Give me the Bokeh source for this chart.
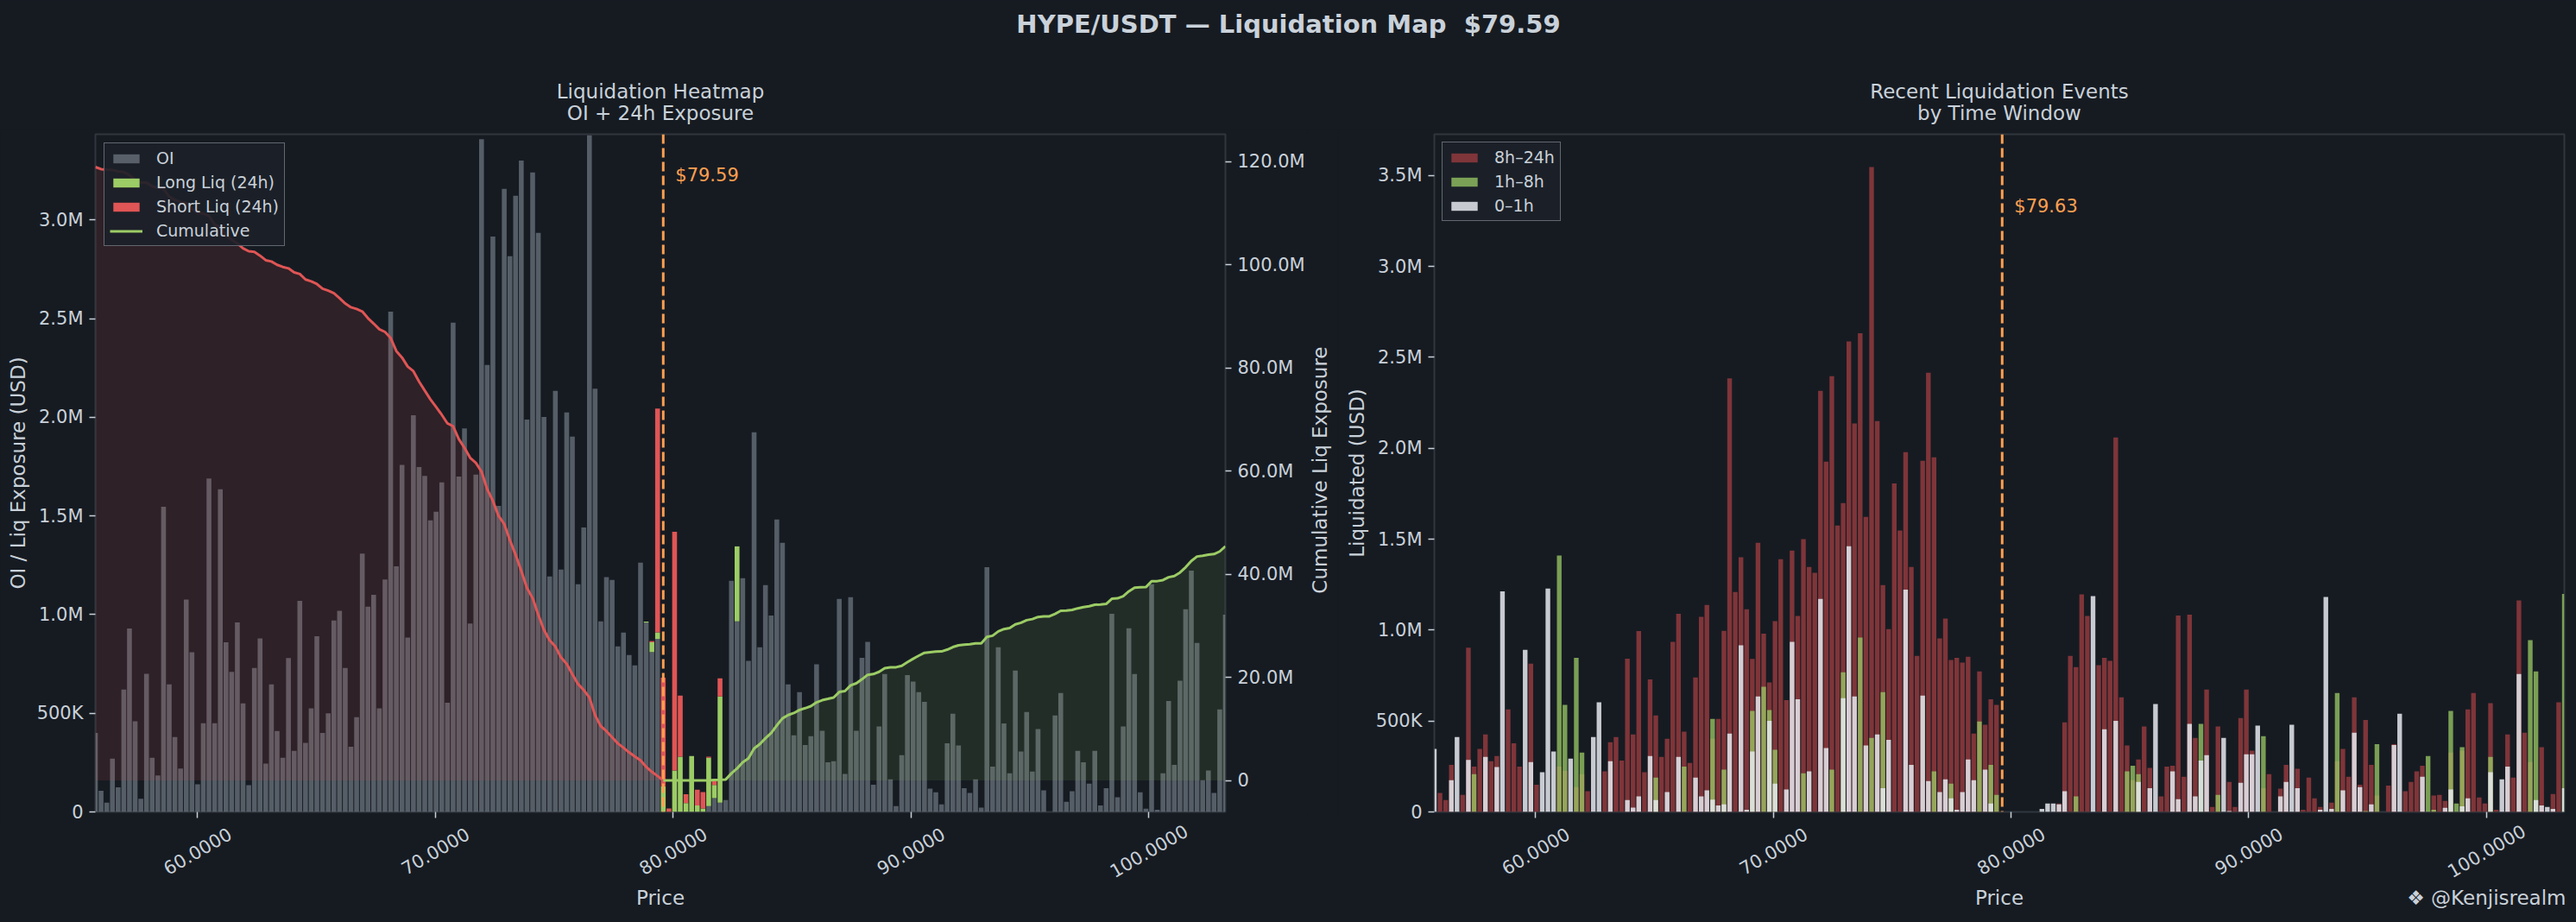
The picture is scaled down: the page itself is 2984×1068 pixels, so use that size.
import numpy as np
from math import pi
from bokeh.plotting import figure
from bokeh.models import (Range1d, LinearAxis, FixedTicker, Span, Label, Legend,
                          LegendItem, ColumnDataSource)
from bokeh.core.properties import value
from bokeh.layouts import column, row
from bokeh.embed import file_html
from bokeh.resources import INLINE

# ---------------------------------------------------------------- data
SUPTITLE = "HYPE/USDT \u2014 Liquidation Map \u00a0$79.59"
TITLE_LEFT = ["Liquidation Heatmap", "OI + 24h Exposure"]
TITLE_RIGHT = ["Recent Liquidation Events", "by Time Window"]
PRICE_HEATMAP = 79.59
PRICE_EVENTS = 79.63
PRICE_LABEL_HEATMAP = "$79.59"
PRICE_LABEL_EVENTS = "$79.63"
N_LEVELS = 200
PRICE_INDEX = 100
LEVEL_START_HEATMAP = 55.713
LEVEL_STEP_HEATMAP = 0.23877
LEVEL_START_EVENTS = 55.741
LEVEL_STEP_EVENTS = 0.23889

# open interest per price level (millions USD)
OI_M = [
    0.40, 0.107, 0.047, 0.27, 0.125, 0.62, 0.93, 0.46, 0.067, 0.70,
    0.275, 0.185, 1.547, 0.647, 0.38, 0.22, 1.076, 0.81, 0.14, 0.45,
    1.69, 0.45, 1.636, 0.86, 0.71, 0.96, 0.55, 0.136, 0.73, 0.88,
    0.245, 0.647, 0.41, 0.275, 0.78, 0.31, 1.07, 0.35, 0.525, 0.89,
    0.40, 0.50, 0.97, 1.02, 0.73, 0.33, 0.48, 1.31, 1.04, 1.10,
    0.525, 1.178, 2.536, 1.245, 1.759, 0.884, 2.011, 1.748, 1.703, 1.478,
    1.522, 1.67, 0.554, 2.48, 1.70, 1.944, 0.955, 1.71, 3.41, 2.266,
    2.917, 1.551, 3.158, 2.817, 3.123, 3.301, 1.989, 3.241, 2.935, 2.002,
    1.194, 2.134, 1.228, 2.025, 1.902, 1.154, 1.442, 3.43, 2.145, 0.966,
    1.19, 1.176, 0.839, 0.909, 0.795, 0.743, 1.263, 0.96, 0.81, 0.877,
    0, 0, 0, 0, 0, 0, 0, 0, 0.03, 0.07,
    0.047, 0.06, 1.172, 0.966, 1.185, 0.766, 1.924, 0.835, 1.15, 0.996,
    1.482, 1.364, 0.647, 0.388, 0.607, 0.339, 0.384, 0.748, 0.411, 0.252,
    0.257, 1.08, 0.192, 1.089, 0.411, 0.781, 0.862, 0.138, 0.433, 0.699,
    0.165, 0.029, 0.288, 0.694, 0.661, 0.607, 0.558, 0.118, 0.10, 0.038,
    0.348, 0.498, 0.337, 0.12, 0.096, 0.165, 0.022, 1.241, 0.23, 0.835,
    0.449, 0.196, 0.716, 0.306, 0.507, 0.205, 0.42, 0.109, 0, 0.489,
    0.603, 0.051, 0.105, 0.31, 0.252, 0.143, 0.31, 0.033, 0.12, 1.004,
    0.074, 0.433, 0.931, 0.699, 0.10, 0.016, 1.154, 0.011, 0.196, 0.562,
    0.239, 0.665, 1.027, 1.223, 0.857, 0.161, 0.21, 0.096, 0.52, 1.0,
]
# 24h liquidations near price (level index -> millions USD)
LONG_LIQ_24H_M = {97: 0.005, 98: 0.05, 99: 0.033, 100: 0.13, 102: 0.21, 103: 0.28,
                  104: 0.045, 105: 0.283, 106: 0.033, 107: 0.018, 108: 0.245,
                  109: 0.067, 110: 0.538, 113: 0.38}
SHORT_LIQ_24H_M = {98: 0.006, 99: 1.135, 100: 0.55, 101: 0.018, 102: 1.21, 103: 0.31,
                   104: 0.045, 106: 0.08, 107: 0.083, 108: 0.005, 109: 0.03, 110: 0.092}

# recent liquidation events by time window (millions USD)
LIQ_8H_24H_M = [
    0, 0.104, 0.065, 0.259, 0, 0.094, 0.903, 0.249, 0.346, 0.426,
    0.279, 0.308, 0, 0.564, 0.378, 0.249, 0, 0.816, 0.15, 0,
    0, 0, 0.249, 0.225, 0, 0.136, 0.208, 0.114, 0, 0,
    0.223, 0.383, 0.412, 0.283, 0.843, 0.426, 0.995, 0.218, 0.729, 0.53,
    0.303, 0.402, 0.935, 1.09, 0.441, 0.269, 0.739, 1.073, 1.138, 0.402,
    0.511, 0.996, 2.384, 1.209, 1.40, 1.114, 0.841, 1.48, 0.981, 0.712,
    1.049, 1.39, 0.615, 1.437, 1.078, 1.50, 1.347, 1.315, 2.316, 1.926,
    2.396, 1.575, 1.698, 2.587, 2.137, 2.633, 1.623, 3.547, 2.149, 1.248,
    1.005, 1.807, 1.548, 1.979, 1.347, 0.858, 1.931, 2.415, 1.95, 0.954,
    1.063, 0.836, 0.848, 0.821, 0.853, 0.431, 0.773, 0.48, 0.62, 0.589,
    0, 0, 0, 0, 0, 0, 0, 0, 0, 0,
    0.046, 0.492, 0.858, 0.797, 1.197, 1.078, 0, 0.807, 0.848, 0.831,
    2.059, 0.63, 0.366, 0.174, 0.288, 0.47, 0.242, 0, 0.085, 0.249,
    0.254, 1.08, 0.194, 1.085, 0.407, 0, 0.673, 0.027, 0.47, 0,
    0.165, 0.027, 0.516, 0.673, 0.337, 0, 0.131, 0.208, 0, 0.128,
    0.259, 0, 0.237, 0.012, 0.189, 0.075, 0.027, 0, 0.051, 0.279,
    0.346, 0.194, 0.63, 0.15, 0.506, 0.259, 0.09, 0, 0.145, 0.373,
    0, 0.114, 0.165, 0.223, 0.254, 0, 0.09, 0.094, 0.061, 0.327,
    0, 0.337, 0.564, 0.654, 0.08, 0.046, 0.598, 0.012, 0, 0.426,
    0.189, 1.163, 0.436, 0.274, 0, 0.356, 0, 0.099, 0.603, 0,
]
LIQ_1H_8H_M = [
    0, 0, 0, 0, 0, 0, 0, 0.208, 0, 0,
    0, 0, 0, 0, 0, 0, 0, 0, 0, 0,
    0, 0, 1.41, 0.589, 0, 0.848, 0.327, 0, 0, 0,
    0, 0, 0, 0, 0, 0, 0, 0, 0, 0.189,
    0, 0, 0, 0, 0.249, 0, 0, 0, 0, 0.511,
    0, 0.233, 0, 0, 0, 0, 0.555, 0, 0.688, 0.56,
    0.342, 0, 0, 0, 0, 0.213, 0, 0, 0, 0,
    0.233, 0, 0.768, 0, 0, 0.959, 0, 0.407, 0, 0.659,
    0, 0, 0, 0, 0, 0, 0, 0, 0.223, 0,
    0, 0.155, 0, 0, 0, 0, 0.497, 0, 0.259, 0.094,
    0, 0, 0, 0, 0, 0, 0, 0, 0, 0,
    0, 0, 0, 0.085, 0, 0, 0, 0, 0, 0,
    0, 0, 0.223, 0.254, 0.208, 0, 0, 0, 0, 0,
    0, 0, 0, 0, 0, 0.484, 0, 0, 0.094, 0,
    0, 0, 0, 0, 0, 0, 0.417, 0, 0, 0,
    0, 0, 0, 0, 0, 0, 0, 0, 0, 0.654,
    0, 0, 0, 0, 0.005, 0, 0.373, 0, 0, 0,
    0, 0, 0, 0, 0, 0.308, 0.012, 0, 0, 0.555,
    0.046, 0.356, 0, 0, 0, 0, 0.303, 0, 0, 0,
    0, 0, 0, 0.945, 0.773, 0, 0, 0, 0, 1.199,
]
LIQ_0_1H_M = [
    0.346, 0, 0, 0.174, 0.412, 0, 0.286, 0, 0, 0.303,
    0, 0.247, 1.213, 0, 0, 0, 0.891, 0.274, 0, 0.218,
    1.228, 0.332, 0, 0, 0.293, 0, 0, 0, 0.412, 0.603,
    0, 0.279, 0, 0, 0.065, 0.024, 0.085, 0, 0.308, 0.065,
    0, 0.109, 0, 0.303, 0, 0, 0.189, 0.085, 0.119, 0.068,
    0.036, 0.041, 0.431, 0, 0.916, 0.012, 0.332, 0.635, 0, 0.501,
    0.155, 0, 0.124, 0.935, 0.62, 0, 0.223, 0, 1.172, 0.351,
    0, 0, 0.625, 1.461, 0.635, 0, 0.366, 0, 0.426, 0.131,
    0.397, 0, 0, 1.223, 0.259, 0, 0.64, 0.17, 0, 0.109,
    0.179, 0.075, 0.012, 0.109, 0.288, 0.174, 0, 0.233, 0.046, 0,
    0, 0, 0, 0, 0, 0, 0, 0.017, 0.046, 0.046,
    0.041, 0.114, 0, 0, 0, 0, 1.187, 0, 0.455, 0,
    0.501, 0, 0, 0, 0.165, 0, 0.131, 0.593, 0, 0,
    0.223, 0.07, 0, 0.484, 0.085, 0.283, 0.312, 0, 0, 0.407,
    0.005, 0, 0.16, 0.317, 0.317, 0.475, 0, 0, 0, 0.085,
    0.165, 0.48, 0.131, 0, 0, 0, 0.012, 1.182, 0.017, 0,
    0.119, 0, 0.436, 0.136, 0, 0.041, 0, 0, 0, 0.368,
    0.54, 0, 0, 0, 0.194, 0, 0, 0, 0.022, 0.124,
    0, 0.031, 0.075, 0, 0, 0, 0.218, 0, 0.179, 0.249,
    0, 0.758, 0, 0, 0.065, 0.036, 0.027, 0.017, 0, 0.131,
]

X_TICKS = [60, 70, 80, 90, 100]
X_TICK_LABELS = ["60.0000", "70.0000", "80.0000", "90.0000", "100.0000"]
LEFT_Y_TICKS = [0, 500000, 1000000, 1500000, 2000000, 2500000, 3000000]
LEFT_Y_TICK_LABELS = ["0", "500K", "1.0M", "1.5M", "2.0M", "2.5M", "3.0M"]
CUM_TICKS = [0, 20000000, 40000000, 60000000, 80000000, 100000000, 120000000]
CUM_TICK_LABELS = ["0", "20.0M", "40.0M", "60.0M", "80.0M", "100.0M", "120.0M"]
RIGHT_Y_TICKS = [0, 500000, 1000000, 1500000, 2000000, 2500000, 3000000, 3500000]
RIGHT_Y_TICK_LABELS = ["0", "500K", "1.0M", "1.5M", "2.0M", "2.5M", "3.0M", "3.5M"]

# ---------------------------------------------------------------- style / geometry
BG = "#161b22"
TXT = "#c9d1d9"
SPINE = "#30363d"
FONT = "DejaVu Sans"
ORANGE = "#ff9f50"
RED = "#e05555"
GREEN = "#9ccc65"
OI_COL = "#8b949e"
EV_RED = "#7f3539"
EV_WHITE = "#e6e9ef"

TOTAL_W, TOTAL_H = 2984, 1068
HEAD_H = 150
FRAME_W, FRAME_H = 1309, 785
TOP_BORDER, BOTTOM_BORDER = 5, 12
MAIN_H = TOP_BORDER + FRAME_H + BOTTOM_BORDER          # 802
STRIP_H = TOTAL_H - HEAD_H - MAIN_H                   # 116
P1_LEFT, P1_RIGHT = 110, 95
LAB_W = 36
P2_LEFT, P2_RIGHT = 111, 14
P1_X0 = 0
P2_X0 = P1_LEFT + FRAME_W + P1_RIGHT + LAB_W          # 1550

# ---------------------------------------------------------------- derived
M = 1e6
levels_l = LEVEL_START_HEATMAP + LEVEL_STEP_HEATMAP * np.arange(N_LEVELS)
levels_r = LEVEL_START_EVENTS + LEVEL_STEP_EVENTS * np.arange(N_LEVELS)
oi = np.array(OI_M) * M
long_liq = np.zeros(N_LEVELS)
short_liq = np.zeros(N_LEVELS)
for i, v in LONG_LIQ_24H_M.items():
    long_liq[i] = v * M
for i, v in SHORT_LIQ_24H_M.items():
    short_liq[i] = v * M

cum_below = np.cumsum(oi[:PRICE_INDEX + 1][::-1])[::-1]
cum_above = np.cumsum(oi[PRICE_INDEX:])


def style_fig(p):
    p.title = None
    p.background_fill_color = BG
    p.border_fill_color = BG
    p.outline_line_color = SPINE
    p.outline_line_width = 2
    p.grid.visible = False
    for ax in p.axis:
        ax.axis_line_color = None
        ax.major_tick_line_color = TXT
        ax.major_tick_line_width = 1.5
        ax.major_tick_out = 7
        ax.major_tick_in = 0
        ax.minor_tick_line_color = None
        ax.major_label_text_color = TXT
        ax.major_label_text_font = FONT
        ax.major_label_text_font_size = "21px"
        ax.major_label_standoff = 7
        ax.axis_label_text_color = TXT
        ax.axis_label_text_font = FONT
        ax.axis_label_text_font_size = "23px"
        ax.axis_label_text_font_style = "normal"
        ax.axis_label_standoff = 6
    p.xaxis.ticker = FixedTicker(ticks=X_TICKS, minor_ticks=[])
    p.xaxis.major_label_overrides = {t: "" for t in X_TICKS}
    p.xaxis.major_label_text_font_size = "0px"
    p.xaxis.major_label_standoff = 0


def style_legend(lg, margin):
    lg.location = "top_left"
    lg.margin = margin
    lg.label_text_font = FONT
    lg.label_text_font_size = "19px"
    lg.label_text_color = TXT
    lg.background_fill_color = "#1c2129"
    lg.background_fill_alpha = 0.92
    lg.border_line_color = "#a9afb7"
    lg.border_line_width = 1.5
    lg.padding = 6
    lg.spacing = 6
    lg.glyph_width = 38
    lg.glyph_height = 13
    lg.label_height = 22
    lg.label_standoff = 16


def blank_fig(width, height, x_range):
    f = figure(width=width, height=height, x_range=x_range, y_range=Range1d(0, height),
               min_border=0, x_axis_location=None, y_axis_location=None,
               output_backend="svg", toolbar_location=None)
    f.title = None
    f.background_fill_color = BG
    f.border_fill_color = BG
    f.outline_line_color = None
    f.grid.visible = False
    return f


def txt(f, x, y, s, size, style="normal", align="center", angle=0.0):
    f.text(x=[x], y=[y], text=[s], angle=angle, text_align=align, text_baseline="middle",
           text_font=value(FONT), text_font_size=value(size), text_font_style=style,
           text_color=TXT)


# ---------------------------------------------------------------- header (titles)
head = blank_fig(TOTAL_W, HEAD_H, Range1d(0, TOTAL_W))
txt(head, TOTAL_W / 2, HEAD_H - 27, SUPTITLE, "29px", style="bold")
for x0, left, lines in ((P1_X0, P1_LEFT, TITLE_LEFT), (P2_X0, P2_LEFT, TITLE_RIGHT)):
    cx = x0 + left + FRAME_W / 2
    txt(head, cx, HEAD_H - 105, lines[0], "23px")
    txt(head, cx, HEAD_H - 130, lines[1], "23px")

# ---------------------------------------------------------------- left panel
p1 = figure(frame_width=FRAME_W, frame_height=FRAME_H,
            min_border_left=P1_LEFT, min_border_right=P1_RIGHT,
            min_border_top=TOP_BORDER, min_border_bottom=BOTTOM_BORDER,
            x_range=Range1d(levels_l[0], levels_l[-1]), y_range=Range1d(0, 3.435e6),
            output_backend="svg", toolbar_location=None)
p1.extra_y_ranges = {"cum": Range1d(-6.09e6, 125.3e6)}

src_l = ColumnDataSource(dict(x=levels_l, oi=oi,
                              long_top=oi + long_liq,
                              short_top=oi + long_liq + short_liq))
bar_w_l = LEVEL_STEP_HEATMAP * 0.85
r_oi = p1.vbar(x="x", top="oi", bottom=0, width=bar_w_l, source=src_l,
               fill_color=OI_COL, fill_alpha=0.55, line_color=None)
r_long = p1.vbar(x="x", top="long_top", bottom="oi", width=bar_w_l, source=src_l,
                 fill_color=GREEN, fill_alpha=1.0, line_color=None)
r_short = p1.vbar(x="x", top="short_top", bottom="long_top", width=bar_w_l, source=src_l,
                  fill_color=RED, fill_alpha=1.0, line_color=None)

p1.varea(x=levels_l[:PRICE_INDEX + 1], y1=0, y2=cum_below, y_range_name="cum",
         fill_color=RED, fill_alpha=0.12)
p1.varea(x=levels_l[PRICE_INDEX:], y1=0, y2=cum_above, y_range_name="cum",
         fill_color=GREEN, fill_alpha=0.10)
p1.line(x=levels_l[:PRICE_INDEX + 1], y=cum_below, y_range_name="cum",
        line_color=RED, line_width=3)
r_cum = p1.line(x=levels_l[PRICE_INDEX:], y=cum_above, y_range_name="cum",
                line_color=GREEN, line_width=3)

cum_axis = LinearAxis(y_range_name="cum", ticker=FixedTicker(ticks=CUM_TICKS, minor_ticks=[]),
                      major_label_overrides=dict(zip(CUM_TICKS, CUM_TICK_LABELS)))
p1.add_layout(cum_axis, "right")

p1.yaxis[0].ticker = FixedTicker(ticks=LEFT_Y_TICKS, minor_ticks=[])
p1.yaxis[0].major_label_overrides = dict(zip(LEFT_Y_TICKS, LEFT_Y_TICK_LABELS))
p1.yaxis[0].axis_label = "OI / Liq Exposure (USD)"
style_fig(p1)

p1.add_layout(Span(location=PRICE_HEATMAP, dimension="height", line_color=ORANGE,
                   line_width=3, line_dash="11 5"))
p1.add_layout(Label(x=PRICE_HEATMAP, y=FRAME_H - 47, x_units="data", y_units="screen",
                    x_offset=14, text=PRICE_LABEL_HEATMAP, text_baseline="middle",
                    text_font=FONT, text_font_size="21px", text_color=ORANGE))

lg1 = Legend(items=[LegendItem(label="OI", renderers=[r_oi]),
                    LegendItem(label="Long Liq (24h)", renderers=[r_long]),
                    LegendItem(label="Short Liq (24h)", renderers=[r_short]),
                    LegendItem(label="Cumulative", renderers=[r_cum])])
style_legend(lg1, 10)
p1.add_layout(lg1)

# secondary-axis label column (reads bottom-to-top)
lab1 = blank_fig(LAB_W, MAIN_H, Range1d(0, LAB_W))
txt(lab1, 14, MAIN_H - (TOP_BORDER + FRAME_H / 2), "Cumulative Liq Exposure", "23px",
    angle=pi / 2)

# ---------------------------------------------------------------- right panel
p2 = figure(frame_width=FRAME_W, frame_height=FRAME_H,
            min_border_left=P2_LEFT, min_border_right=P2_RIGHT,
            min_border_top=TOP_BORDER, min_border_bottom=BOTTOM_BORDER,
            x_range=Range1d(levels_r[0], levels_r[-1]), y_range=Range1d(0, 3.727e6),
            output_backend="svg", toolbar_location=None)
src_r = ColumnDataSource(dict(x=levels_r,
                              red=np.array(LIQ_8H_24H_M) * M,
                              green=np.array(LIQ_1H_8H_M) * M,
                              white=np.array(LIQ_0_1H_M) * M))
bar_w_r = LEVEL_STEP_EVENTS * 0.82
r_red = p2.vbar(x="x", top="red", bottom=0, width=bar_w_r, source=src_r,
                fill_color=EV_RED, fill_alpha=1.0, line_color=None)
r_green = p2.vbar(x="x", top="green", bottom=0, width=bar_w_r, source=src_r,
                  fill_color=GREEN, fill_alpha=0.75, line_color=None)
r_white = p2.vbar(x="x", top="white", bottom=0, width=bar_w_r, source=src_r,
                  fill_color=EV_WHITE, fill_alpha=0.85, line_color=None)

p2.yaxis[0].ticker = FixedTicker(ticks=RIGHT_Y_TICKS, minor_ticks=[])
p2.yaxis[0].major_label_overrides = dict(zip(RIGHT_Y_TICKS, RIGHT_Y_TICK_LABELS))
p2.yaxis[0].axis_label = "Liquidated (USD)"
style_fig(p2)

p2.add_layout(Span(location=PRICE_EVENTS, dimension="height", line_color=ORANGE,
                   line_width=3, line_dash="11 5"))
p2.add_layout(Label(x=PRICE_EVENTS, y=FRAME_H - 83, x_units="data", y_units="screen",
                    x_offset=14, text=PRICE_LABEL_EVENTS, text_baseline="middle",
                    text_font=FONT, text_font_size="21px", text_color=ORANGE))

lg2 = Legend(items=[LegendItem(label="8h\u201324h", renderers=[r_red]),
                    LegendItem(label="1h\u20138h", renderers=[r_green]),
                    LegendItem(label="0\u20131h", renderers=[r_white])])
style_legend(lg2, 9)
p2.add_layout(lg2)

# ---------------------------------------------------------------- x tick label strips
ppu_l = FRAME_W / (levels_l[-1] - levels_l[0])
ppu_r = FRAME_W / (levels_r[-1] - levels_r[0])
S1_W = P2_X0
S2_W = TOTAL_W - P2_X0
s1 = blank_fig(S1_W, STRIP_H, Range1d(levels_l[0] - P1_LEFT / ppu_l,
                                       levels_l[0] + (S1_W - P1_LEFT) / ppu_l))
s2 = blank_fig(S2_W, STRIP_H, Range1d(levels_r[0] - P2_LEFT / ppu_r,
                                       levels_r[0] + (S2_W - P2_LEFT) / ppu_r))
TICK_LABEL_Y = STRIP_H - 33
AXIS_LABEL_Y = STRIP_H - 87
for s, lv in ((s1, levels_l), (s2, levels_r)):
    s.text(x=X_TICKS, y=[TICK_LABEL_Y] * len(X_TICKS), text=X_TICK_LABELS, angle=pi / 6,
           text_align="center", text_baseline="middle", text_font=value(FONT),
           text_font_size=value("21px"), text_color=TXT)
    txt(s, (lv[0] + lv[-1]) / 2, AXIS_LABEL_Y, "Price", "23px")
txt(s2, levels_r[0] + (FRAME_W + 2) / ppu_r, AXIS_LABEL_Y, "\u2756 @Kenjisrealm", "23px",
    align="right")

# ---------------------------------------------------------------- layout
layout = column(head,
                row(p1, lab1, p2, spacing=0),
                row(s1, s2, spacing=0),
                spacing=0)

html = file_html(layout, INLINE, title="HYPE/USDT Liquidation Map")
html = html.replace("</head>",
                    "<style>html, body { background-color: %s !important; }</style></head>" % BG, 1)
open("out.html", "w").write(html)
